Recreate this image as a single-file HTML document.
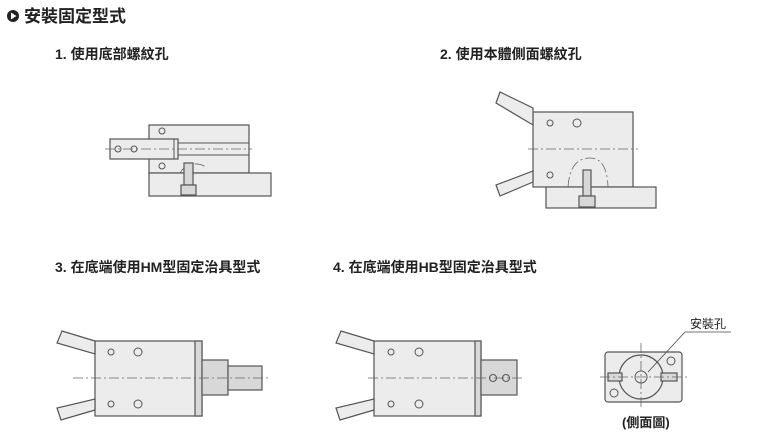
<!DOCTYPE html>
<html><head><meta charset="utf-8"><style>
html,body{margin:0;padding:0;background:#fff;}
svg{display:block;font-family:"Liberation Sans","Noto Sans CJK TC",sans-serif;}
.b{fill:#ececec;stroke:#555;stroke-width:1.2}
.d{fill:#d8d8d8;stroke:#555;stroke-width:1.2}
.c{stroke:#666;stroke-width:0.8;stroke-dasharray:10 3 2 3;fill:none}
.h{fill:none;stroke:#555;stroke-width:1}
.t{font-size:14px;font-weight:bold;fill:#222}
</style></head><body>
<svg width="771" height="448" viewBox="0 0 771 448">
<circle cx="13" cy="16" r="6" fill="#222"/><path d="M11 12.5 L16.5 16 L11 19.5Z" fill="#fff"/>
<text x="24" y="22" font-size="17" font-weight="bold" fill="#222">安裝固定型式</text>
<text x="55" y="59" class="t">1. 使用底部螺紋孔</text>
<text x="440" y="59" class="t">2. 使用本體側面螺紋孔</text>
<text x="55" y="272" class="t">3. 在底端使用HM型固定治具型式</text>
<text x="333" y="272" class="t">4. 在底端使用HB型固定治具型式</text>

<!-- fig1 -->
<rect class="b" x="149" y="125" width="100" height="48"/>
<rect class="b" x="149" y="173" width="122" height="23"/>
<rect class="b" x="110" y="139" width="68" height="20"/>
<line class="h" x1="174" y1="139" x2="174" y2="159"/><line class="h" x1="178" y1="139" x2="178" y2="159"/>
<line class="h" x1="178" y1="143" x2="249" y2="143"/><line class="h" x1="178" y1="155" x2="249" y2="155"/>
<line class="c" x1="105" y1="149" x2="252" y2="149"/>
<circle class="h" cx="118" cy="149" r="3"/><circle class="h" cx="134" cy="149" r="3"/>
<circle class="h" cx="162" cy="131" r="3"/><circle class="h" cx="162" cy="166" r="3"/>
<path class="c" d="M180 173 A18 18 0 0 1 207 168"/>
<rect class="d" x="184" y="163" width="9" height="22"/><rect class="d" x="181" y="185" width="15" height="10"/>

<!-- fig2 -->
<rect class="b" x="533" y="112" width="100" height="75"/>
<rect class="b" x="546" y="187" width="110" height="21"/>
<polygon class="b" points="496,103 500,92 533,108 533,125"/>
<polygon class="b" points="496,185 500,196 533,182 533,171"/>
<line class="c" x1="528" y1="149" x2="638" y2="149"/>
<circle class="h" cx="550" cy="123" r="3"/><circle class="h" cx="577" cy="123" r="4"/><circle class="h" cx="550" cy="175" r="3"/>
<path class="c" d="M568 187 Q570 158 590 158 Q607 158 608 187"/>
<rect class="d" x="583" y="170" width="8" height="26"/><rect class="d" x="579" y="196" width="16" height="11"/>

<!-- fig3 -->
<rect class="b" x="95" y="341" width="107" height="75"/>
<rect class="d" x="195" y="341" width="7" height="75"/>
<rect class="d" x="202" y="360" width="26" height="35"/>
<rect class="d" x="228" y="366" width="34" height="24"/>
<polygon class="b" points="57,343 62,331 95,341 95,354"/>
<polygon class="b" points="57,408 61,420 95,410 95,399"/>
<line class="c" x1="73" y1="378" x2="268" y2="378"/>
<circle class="h" cx="111" cy="352" r="3"/><circle class="h" cx="138" cy="352" r="4"/>
<circle class="h" cx="111" cy="404" r="3"/><circle class="h" cx="138" cy="404" r="4"/>

<!-- fig4 -->
<rect class="b" x="374" y="341" width="107" height="75"/>
<rect class="d" x="475" y="341" width="6" height="75"/>
<rect class="d" x="481" y="360" width="36" height="35"/>
<polygon class="b" points="336,343 341,331 374,341 374,354"/>
<polygon class="b" points="336,408 340,420 374,410 374,399"/>
<line class="c" x1="368" y1="378" x2="522" y2="378"/>
<circle class="h" cx="391" cy="352" r="3"/><circle class="h" cx="419" cy="352" r="4"/>
<circle class="h" cx="391" cy="404" r="3"/><circle class="h" cx="419" cy="404" r="4"/>
<circle class="h" cx="493" cy="378" r="3.5"/><circle class="h" cx="506" cy="378" r="3.5"/>

<!-- side view -->
<rect class="b" x="605" y="352" width="77" height="50" rx="3"/>
<circle class="b" cx="641" cy="377" r="22"/>
<circle class="h" cx="641" cy="377" r="6"/>
<rect class="d" x="608" y="373" width="14" height="8"/><rect class="d" x="661" y="373" width="16" height="8"/>
<circle class="h" cx="671" cy="361" r="4"/><circle class="h" cx="614" cy="393" r="4"/>
<line class="c" x1="600" y1="377" x2="688" y2="377"/><line class="c" x1="641" y1="343" x2="641" y2="410"/>
<line stroke="#444" stroke-width="0.8" x1="648" y1="372" x2="685" y2="332"/><line stroke="#444" stroke-width="0.8" x1="685" y1="332" x2="731" y2="332"/>
<text x="690" y="328" font-size="12" fill="#222">安裝孔</text>
<text x="622" y="427" font-size="13" font-weight="bold" fill="#222">(側面圖)</text>
</svg>
</body></html>
